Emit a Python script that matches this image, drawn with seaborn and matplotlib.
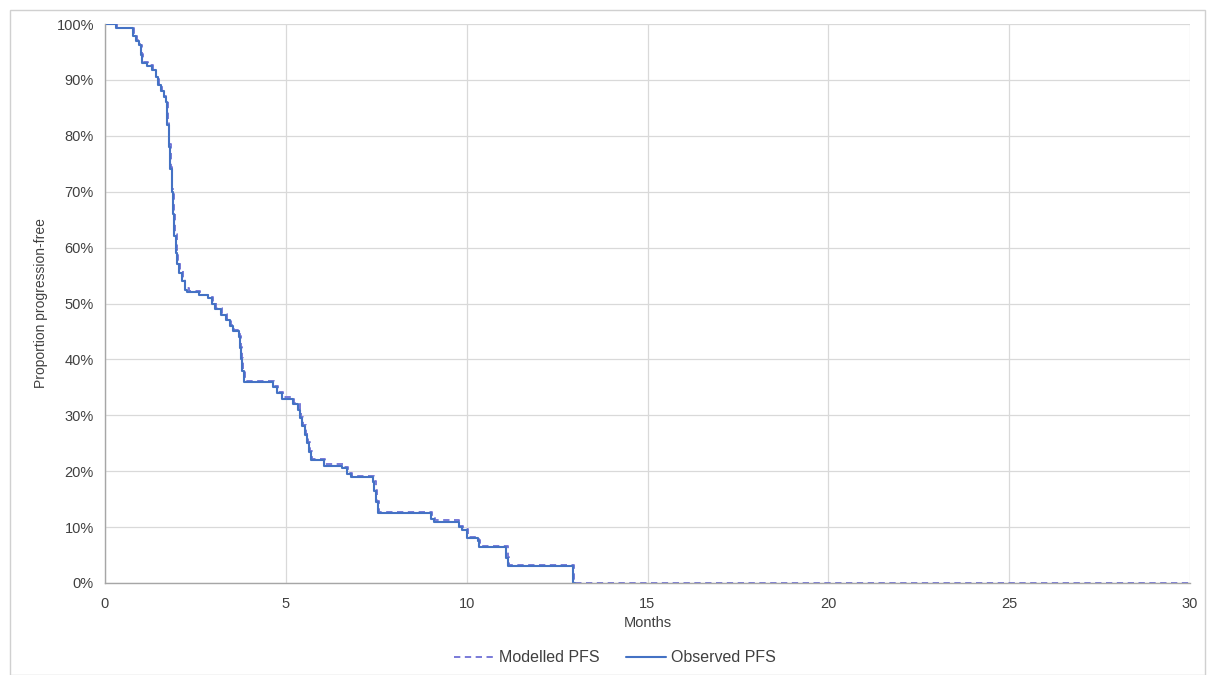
import matplotlib
matplotlib.use("Agg")
import matplotlib.pyplot as plt
import seaborn as sns
import pandas as pd
from matplotlib.patches import Rectangle
from matplotlib.ticker import PercentFormatter

# Observed PFS (Kaplan-Meier step function): time in months, proportion after step
obs_time = [0.0, 0.30, 0.78, 0.85, 0.95, 1.00, 1.03, 1.15, 1.30, 1.40, 1.47, 1.55, 1.62, 1.68,
            1.72, 1.76, 1.80, 1.84, 1.88, 1.92, 1.96, 2.00, 2.05, 2.12, 2.20, 2.28, 2.60, 2.85,
            2.95, 3.05, 3.20, 3.35, 3.45, 3.55, 3.70, 3.73, 3.76, 3.80, 3.85, 4.65, 4.75, 4.90,
            5.20, 5.35, 5.40, 5.45, 5.52, 5.58, 5.63, 5.70, 6.05, 6.55, 6.70, 6.80, 7.40, 7.45,
            7.50, 7.55, 9.00, 9.10, 9.78, 9.88, 10.00, 10.30, 10.35, 11.10, 11.15, 12.95, 13.0]
obs_surv = [1.000, 0.992, 0.978, 0.970, 0.962, 0.945, 0.930, 0.925, 0.917, 0.905, 0.890, 0.880,
            0.870, 0.860, 0.820, 0.780, 0.740, 0.700, 0.660, 0.620, 0.590, 0.570, 0.555, 0.540,
            0.525, 0.520, 0.515, 0.510, 0.500, 0.490, 0.480, 0.470, 0.460, 0.450, 0.440, 0.420,
            0.400, 0.380, 0.360, 0.350, 0.340, 0.330, 0.320, 0.310, 0.295, 0.280, 0.265, 0.250,
            0.235, 0.220, 0.210, 0.205, 0.195, 0.190, 0.180, 0.165, 0.145, 0.125, 0.115, 0.110,
            0.100, 0.095, 0.080, 0.075, 0.065, 0.045, 0.030, 0.000, 0.000]

# Modelled PFS
mod_time = [0.0, 0.32, 0.80, 0.88, 0.97, 1.02, 1.06, 1.18, 1.33, 1.42, 1.50, 1.57, 1.64, 1.70,
            1.74, 1.78, 1.82, 1.86, 1.90, 1.94, 1.98, 2.02, 2.08, 2.15, 2.22, 2.32, 2.63, 2.88,
            2.98, 3.08, 3.23, 3.38, 3.48, 3.58, 3.72, 3.75, 3.78, 3.82, 3.87, 4.68, 4.78, 4.93,
            5.23, 5.38, 5.43, 5.48, 5.55, 5.61, 5.66, 5.73, 6.08, 6.58, 6.73, 6.83, 7.43, 7.48,
            7.53, 7.58, 9.03, 9.13, 9.80, 9.90, 10.03, 10.33, 10.38, 11.13, 11.18, 12.98, 30.0]
mod_surv = [1.000, 0.993, 0.979, 0.971, 0.963, 0.947, 0.932, 0.926, 0.918, 0.906, 0.892, 0.881,
            0.871, 0.862, 0.825, 0.785, 0.745, 0.705, 0.665, 0.625, 0.595, 0.575, 0.560, 0.543,
            0.527, 0.522, 0.516, 0.512, 0.502, 0.492, 0.482, 0.472, 0.462, 0.452, 0.442, 0.422,
            0.402, 0.382, 0.362, 0.352, 0.342, 0.332, 0.322, 0.312, 0.297, 0.282, 0.267, 0.252,
            0.237, 0.222, 0.212, 0.207, 0.197, 0.192, 0.182, 0.167, 0.147, 0.127, 0.117, 0.112,
            0.102, 0.097, 0.082, 0.077, 0.067, 0.047, 0.032, 0.000, 0.000]

x_ticks = [0, 5, 10, 15, 20, 25, 30]
y_ticks = [0, 0.1, 0.2, 0.3, 0.4, 0.5, 0.6, 0.7, 0.8, 0.9, 1.0]

sns.set_theme(style="whitegrid")
plt.rcParams['font.family'] = ['Liberation Sans', 'DejaVu Sans']

fig = plt.figure(figsize=(12.12, 6.75), dpi=100)
ax = fig.add_axes([105/1212, 1-583/675, (1190-105)/1212, (583-24)/675])

mod_df = pd.DataFrame({"Months": mod_time, "PFS": mod_surv})
obs_df = pd.DataFrame({"Months": obs_time, "PFS": obs_surv})

sns.lineplot(data=mod_df, x="Months", y="PFS", ax=ax, drawstyle="steps-post",
             color="#6E6FD6", linestyle=(0, (3.5, 2.5)), linewidth=1.3, label="Modelled PFS")
sns.lineplot(data=obs_df, x="Months", y="PFS", ax=ax, drawstyle="steps-post",
             color="#4472C4", linewidth=1.5, label="Observed PFS")

ax.set_xlim(0, 30)
ax.set_ylim(0, 1.0)
ax.set_xticks(x_ticks)
ax.set_yticks(y_ticks)
ax.yaxis.set_major_formatter(PercentFormatter(1.0, decimals=0))
ax.tick_params(axis="both", labelsize=10.5, colors="#404040", length=0)
ax.tick_params(axis="x", pad=10)
ax.tick_params(axis="y", pad=8)
ax.set_xlabel("Months", fontsize=10.5, color="#404040", labelpad=4)
ax.set_ylabel("Proportion progression-free", fontsize=10, color="#404040", labelpad=6)
ax.grid(True, color="#D9D9D9", linewidth=0.9)
for s in ["top", "right"]:
    ax.spines[s].set_visible(False)
for s in ["left", "bottom"]:
    ax.spines[s].set_color("#A6A6A6")
    ax.spines[s].set_linewidth(1.0)

leg = ax.legend(loc="center", ncol=2, frameon=False, fontsize=11.5, handlelength=2.5,
                handletextpad=0.35, columnspacing=1.6)
leg.set_bbox_to_anchor((615/1212, 1 - 658/675), transform=fig.transFigure)
for t in leg.get_texts():
    t.set_color("#404040")

fig.patches.append(Rectangle((10/1212, 0), (1205-10)/1212, 1-10/675, transform=fig.transFigure,
                             fill=False, edgecolor="#D0D0D0", linewidth=1))

fig.savefig("out.png", dpi=100)
